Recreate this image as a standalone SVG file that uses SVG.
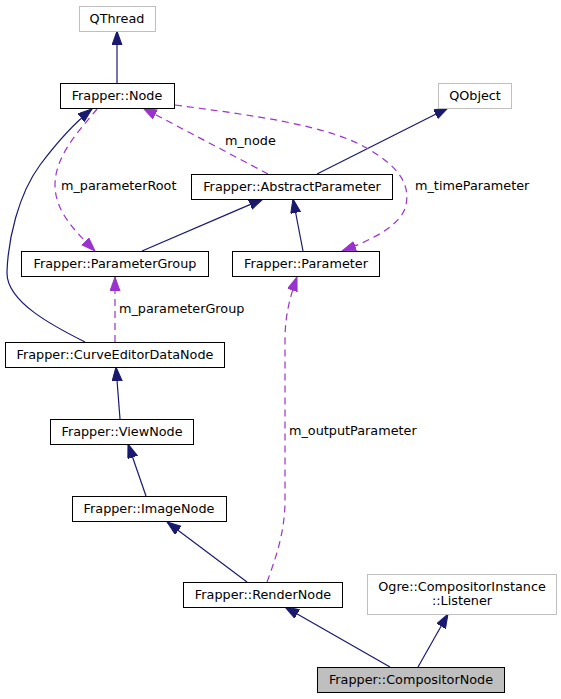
<svg xmlns="http://www.w3.org/2000/svg" width="561" height="699" viewBox="0 0 561 699">
<style>
text{font-family:"DejaVu Sans",sans-serif;font-size:12.8px;fill:#000}
.n text{text-anchor:middle}
.box{fill:#fff;stroke:#000;stroke-width:1}
.ext{fill:#fff;stroke:#bfbfbf;stroke-width:1}
.cur{fill:#bfbfbf;stroke:#000;stroke-width:1}
.inh{fill:none;stroke:#191970;stroke-width:1.2}
.use{fill:none;stroke:#9a32cd;stroke-width:1.2;stroke-dasharray:7,5}
</style>
<defs>
<marker id="ah" markerUnits="userSpaceOnUse" markerWidth="16" markerHeight="12" refX="14" refY="5" orient="auto"><path d="M0,0 L14,5 L0,10 z" fill="#191970" stroke="#191970"/></marker>
<marker id="ap" markerUnits="userSpaceOnUse" markerWidth="16" markerHeight="12" refX="14" refY="5" orient="auto"><path d="M0,0 L14,5 L0,10 z" fill="#9a32cd" stroke="#9a32cd"/></marker>
</defs>
<rect width="561" height="699" fill="#fff"/>
<g id="edges">
<path class="inh" marker-end="url(#ah)" d="M117,83 L117,31"/>
<path class="inh" marker-end="url(#ah)" d="M317,174 L448,108"/>
<path class="inh" marker-end="url(#ah)" d="M142,251 L263,199"/>
<path class="inh" marker-end="url(#ah)" d="M303,251 L293,199"/>
<path class="inh" marker-end="url(#ah)" d="M85,342 C55,327 6,302 7,272 C8,240 18,195 40,165 C55,145 72,125 92,109"/>
<path class="inh" marker-end="url(#ah)" d="M120,419 L116,367"/>
<path class="inh" marker-end="url(#ah)" d="M146,496 L128,444"/>
<path class="inh" marker-end="url(#ah)" d="M247,582 L167,522"/>
<path class="inh" marker-end="url(#ah)" d="M390,667 L285,607"/>
<path class="inh" marker-end="url(#ah)" d="M418,667 L448,614"/>
<path class="use" marker-end="url(#ap)" d="M268,174 L143,108"/>
<path class="use" marker-end="url(#ap)" d="M97,109 C80,130 55,155 55,185 C55,212 76,232 95,251"/>
<path class="use" marker-end="url(#ap)" d="M175,105 C250,115 330,125 370,150 C400,168 410,185 406,205 C402,225 372,240 342,251"/>
<path class="use" marker-end="url(#ap)" d="M267,582 C277,555 285,530 285,500 L285,340 C285,315 290,297 297,277"/>
<path class="use" marker-end="url(#ap)" d="M115,342 L115,277"/>
<text x="225" y="145">m_node</text>
<text x="61" y="190">m_parameterRoot</text>
<text x="415" y="190">m_timeParameter</text>
<text x="119" y="313">m_parameterGroup</text>
<text x="289" y="435">m_outputParameter</text>
</g>
<g id="QThread" class="n"><rect class="ext" x="79.5" y="6.5" width="76" height="25"/><text x="117" y="23">QThread</text></g>
<g id="Node" class="n"><rect class="box" x="60.5" y="83.5" width="114" height="25"/><text x="117" y="100">Frapper::Node</text></g>
<g id="QObject" class="n"><rect class="ext" x="438.5" y="83.5" width="73" height="25"/><text x="475" y="100">QObject</text></g>
<g id="AbstractParameter" class="n"><rect class="box" x="191.5" y="174.5" width="201" height="25"/><text x="292" y="191">Frapper::AbstractParameter</text></g>
<g id="ParameterGroup" class="n"><rect class="box" x="21.5" y="251.5" width="187" height="25"/><text x="115" y="268">Frapper::ParameterGroup</text></g>
<g id="Parameter" class="n"><rect class="box" x="232.5" y="251.5" width="147" height="25"/><text x="306" y="268">Frapper::Parameter</text></g>
<g id="CurveEditorDataNode" class="n"><rect class="box" x="5.5" y="342.5" width="219" height="25"/><text x="115" y="359">Frapper::CurveEditorDataNode</text></g>
<g id="ViewNode" class="n"><rect class="box" x="50.5" y="419.5" width="143" height="25"/><text x="122" y="436">Frapper::ViewNode</text></g>
<g id="ImageNode" class="n"><rect class="box" x="72.5" y="496.5" width="154" height="25"/><text x="149" y="513">Frapper::ImageNode</text></g>
<g id="RenderNode" class="n"><rect class="box" x="183.5" y="582.5" width="159" height="25"/><text x="263" y="599">Frapper::RenderNode</text></g>
<g id="Listener" class="n"><rect class="ext" x="367.5" y="574.5" width="189" height="40"/><text x="462" y="591">Ogre::CompositorInstance</text><text x="462" y="605">::Listener</text></g>
<g id="CompositorNode" class="n"><rect class="cur" x="317.5" y="667.5" width="187" height="25"/><text x="411" y="684">Frapper::CompositorNode</text></g>
</svg>
